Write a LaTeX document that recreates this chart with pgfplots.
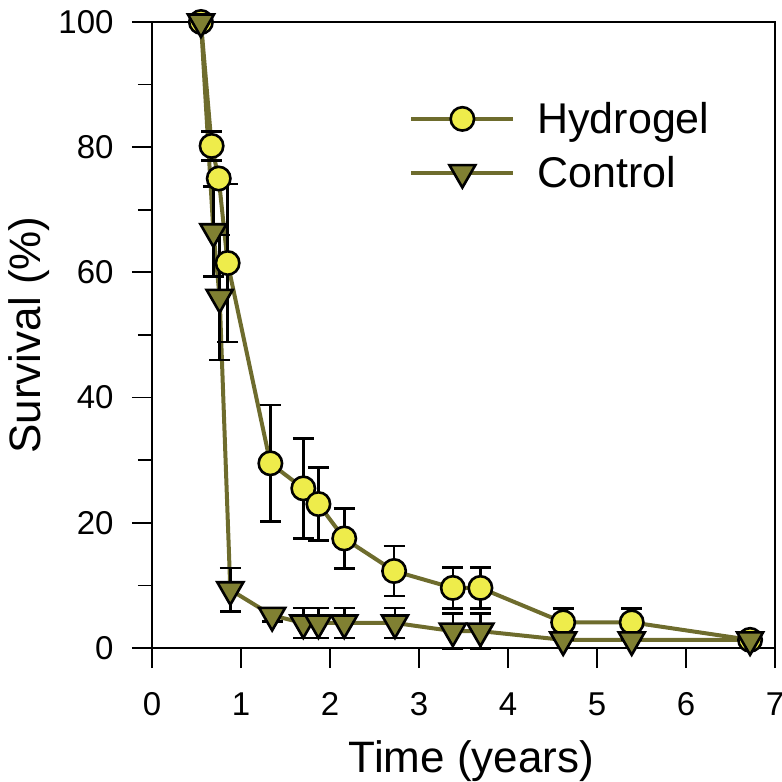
\documentclass[border=0pt]{standalone}
\usepackage{pgfplots}
\pgfplotsset{compat=1.18}
\usepackage{fontspec}
\setmainfont{Liberation Sans}

\definecolor{olivel}{RGB}{110,108,45}
\definecolor{yelfill}{RGB}{238,236,75}
\definecolor{trifill}{RGB}{128,128,50}

\pgfplotstableread{
x     y     e
0.55  100   0
0.67  80.2  2.3
0.75  75.0  1.0
0.85  61.5  12.6
1.33  29.5  9.3
1.70  25.5  8.0
1.87  23.0  5.8
2.16  17.5  4.8
2.72  12.3  4.0
3.38  9.6   3.3
3.69  9.6   3.3
4.62  4.1   2.2
5.39  4.1   2.2
6.72  1.3   0
}\hydrogel

\pgfplotstableread{
x     y     e
0.55  100   0
0.69  66.5  7.2
0.76  56.0  10.0
0.88  9.3   3.5
1.35  5.2   1.0
1.70  4.0   2.4
1.87  4.0   2.4
2.16  4.0   2.4
2.73  4.0   2.4
3.38  2.7   2.8
3.69  2.7   2.8
4.62  1.3   0
5.39  1.3   0
6.72  1.3   0
}\control

\begin{document}
\begin{tikzpicture}
\begin{axis}[
  at={(0,0)}, anchor=south west,
  scale only axis, width=623pt, height=626pt,
  xmin=0, xmax=7, ymin=0, ymax=100,
  xtick={0,1,...,7}, ytick={0,20,...,100},
  minor ytick={10,30,...,90},
  tick align=outside, tick pos=left,
  major tick length=20pt, minor tick length=14pt,
  axis line style={line width=1.8pt},
  every tick/.style={line width=1.8pt, black},
  ticklabel style={font=\fontsize{33}{40}\selectfont},
  xticklabel style={yshift=-21pt},
  yticklabel style={xshift=-15pt},
  /pgf/number format/assume math mode=true,
  xlabel={Time (years)}, ylabel={Survival (\%)},
  label style={font=\fontsize{44}{52}\selectfont},
  xlabel style={yshift=-18pt, xshift=8pt},
  every axis y label/.style={at={(rel axis cs:-0.197,0.5)}, anchor=center, rotate=90,
    font=\fontsize{44}{52}\selectfont},
  clip=false,
  legend style={draw=none, fill=none, at={(rel axis cs:0.408,0.878)}, anchor=north west,
    font=\fontsize{43}{52}\selectfont, row sep=17pt, column sep=20pt},
  legend cell align=left,
  legend image code/.code={\draw[mark repeat=2, mark phase=2, #1] plot coordinates {(0pt,0pt) (51pt,0pt) (102pt,0pt)};},
  error bars/error bar style={black, line width=2.6pt},
  error bars/error mark options={black, rotate=90, mark size=10.5pt, line width=2.6pt},
  hyd/.style={color=olivel, line width=4pt, mark=*, mark size=11.7pt,
    mark options={fill=yelfill, draw=black, line width=2.6pt}},
  ctl/.style={color=olivel, line width=4pt, mark=triangle*, mark size=15pt,
    mark options={rotate=180, fill=trifill, draw=black, line width=2.6pt}},
]
% connecting lines
\addplot[color=olivel, line width=4pt, mark=none, forget plot]
  table[x=x, y=y] {\hydrogel};
\addplot[color=olivel, line width=4pt, mark=none, forget plot]
  table[x=x, y=y] {\control};
% error bars
\addplot[draw=none, mark=none, forget plot, error bars/.cd, y dir=both, y explicit]
  table[x=x, y=y, y error=e] {\hydrogel};
\addplot[draw=none, mark=none, forget plot, error bars/.cd, y dir=both, y explicit]
  table[x=x, y=y, y error=e] {\control};
% symbols
\addplot[hyd, only marks, forget plot] table[x=x, y=y] {\hydrogel};
\addplot[ctl, only marks, forget plot] table[x=x, y=y] {\control};
\addlegendimage{hyd}
\addlegendentry{Hydrogel}
\addlegendimage{ctl}
\addlegendentry{Control}
\end{axis}
\pgfresetboundingbox
\path[use as bounding box] (-152pt,-134pt) rectangle (630pt,648pt);
\end{tikzpicture}
\end{document}
